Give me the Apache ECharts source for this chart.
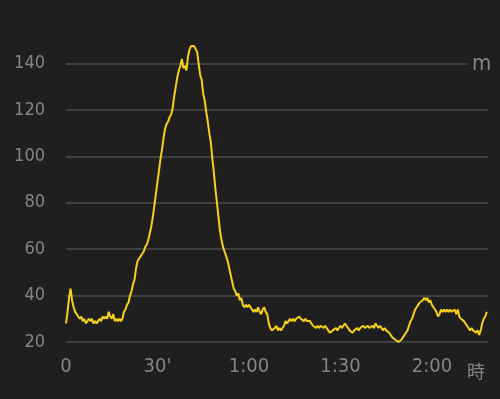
<!DOCTYPE html>
<html>
<head>
<meta charset="utf-8">
<style>
  html, body { margin: 0; padding: 0; background: #1f1f1f; }
  #chart { width: 500px; height: 399px; }
</style>
<script src="https://cdn.jsdelivr.net/npm/echarts@6/dist/echarts.min.js"></script>
</head>
<body>
<div id="chart"></div>
<script>
// elevation (m) sampled every half minute, from 0 to 138 min
const STEP_MIN = 0.5
const elevation = [
  28, 33, 39, 43, 38, 35, 33, 32, 31, 30, 31, 29, 30, 28, 29, 30, 29, 30, 28, 29,
  28, 29, 30, 29, 31, 30, 31, 30, 33, 31, 30, 32, 29, 30, 29, 30, 29, 30, 33, 34,
  36, 37, 40, 42, 45, 47, 52, 55, 56, 57, 58, 59, 61, 62, 64, 67, 70, 74, 79, 84,
  89, 94, 99, 103, 108, 112, 114, 115, 117, 118, 121, 126, 130, 134, 137, 139, 142, 138, 139, 137,
  143, 146, 147.5, 148, 147.5, 147, 145, 140, 135, 133, 127, 124, 119, 115, 110, 106, 99, 93, 86, 80,
  74, 68, 64, 61, 59, 57, 55, 52, 49, 46, 43, 42, 40, 41, 38, 39, 36, 35, 36, 35,
  36, 35, 34, 33, 34, 33, 35, 33, 32, 34, 35, 33, 32, 28, 26, 25, 25, 26, 27, 25,
  26, 25, 26, 27, 29, 28, 29, 30, 29, 30, 29, 30, 30, 31, 30, 30, 29, 30, 29, 29,
  29, 28, 27, 27, 26, 27, 26, 27, 27, 26, 27, 26, 25, 24, 24, 25, 25, 26, 25, 26,
  27, 26, 27, 28, 27, 26, 25, 25, 24, 25, 25, 26, 25, 26, 26, 27, 26, 26, 27, 26,
  26, 27, 26, 28, 27, 26, 27, 26, 25, 26, 25, 25, 24, 24, 22, 22, 21, 21, 20, 20.5,
  21, 22, 23, 24, 25, 27, 29, 30, 32, 34, 35, 36, 37, 37, 38, 39, 38, 39, 37, 38,
  36, 35, 34, 33, 31, 32, 34, 33, 34, 33, 34, 33, 34, 33, 33, 34, 32, 34, 31, 30,
  30, 29, 28, 27, 26, 25, 26, 25, 25, 24, 25, 23, 25, 28, 30, 31, 33
]
const xTickLabels = { 0: '0', 30: "30'", 60: '1:00', 90: '1:30', 120: '2:00' }
const yTicks = [20, 40, 60, 80, 100, 120, 140]

// "condensed" goes into the canvas font shorthand as font-stretch
const FONT = "'Liberation Sans Narrow', 'DejaVu Sans', 'Noto Sans CJK JP', sans-serif"
const TEXT_COLOR = '#858585'

let points = elevation.map((v, i) => [i * STEP_MIN, v])

let chart = echarts.init(document.getElementById('chart'))
chart.setOption({
  backgroundColor: '#1f1f1f',
  animation: false,
  grid: {
    left: 66,
    right: 12,
    top: 63.5,
    bottom: 57
  },
  xAxis: {
    type: 'value',
    min: 0,
    max: 138.4,
    interval: 30,
    axisLine: { show: false },
    axisTick: { show: false },
    splitLine: { show: false },
    axisLabel: {
      color: TEXT_COLOR,
      fontFamily: FONT,
      fontStyle: 'condensed',
      fontSize: 20,
      margin: 15,
      showMaxLabel: false,
      formatter: (val) => xTickLabels[val] || ''
    }
  },
  yAxis: {
    type: 'value',
    min: yTicks[0],
    max: yTicks[yTicks.length - 1],
    interval: 20,
    axisLine: { show: false },
    axisTick: { show: false },
    splitLine: {
      lineStyle: { color: '#4d4d4d', width: 1.5 }
    },
    axisLabel: {
      color: TEXT_COLOR,
      fontFamily: FONT,
      fontStyle: 'condensed',
      fontSize: 18,
      margin: 21
    }
  },
  graphic: [
    {
      type: 'text',
      z: 100,
      x: 467,
      y: 64,
      style: {
        text: 'm',
        fill: TEXT_COLOR,
        font: 'condensed 22px ' + FONT,
        verticalAlign: 'middle',
        backgroundColor: '#1f1f1f',
        padding: [0, 4, 0, 5]
      }
    },
    {
      type: 'text',
      z: 100,
      x: 476,
      y: 371,
      style: {
        text: '時',
        fill: TEXT_COLOR,
        font: "18px 'Noto Sans CJK JP', sans-serif",
        align: 'center',
        verticalAlign: 'middle'
      }
    }
  ],
  series: [
    {
      type: 'line',
      data: points,
      clip: false,
      showSymbol: false,
      symbol: 'none',
      lineStyle: { color: '#f5d01c', width: 2 }
    }
  ]
})
</script>
</body>
</html>
